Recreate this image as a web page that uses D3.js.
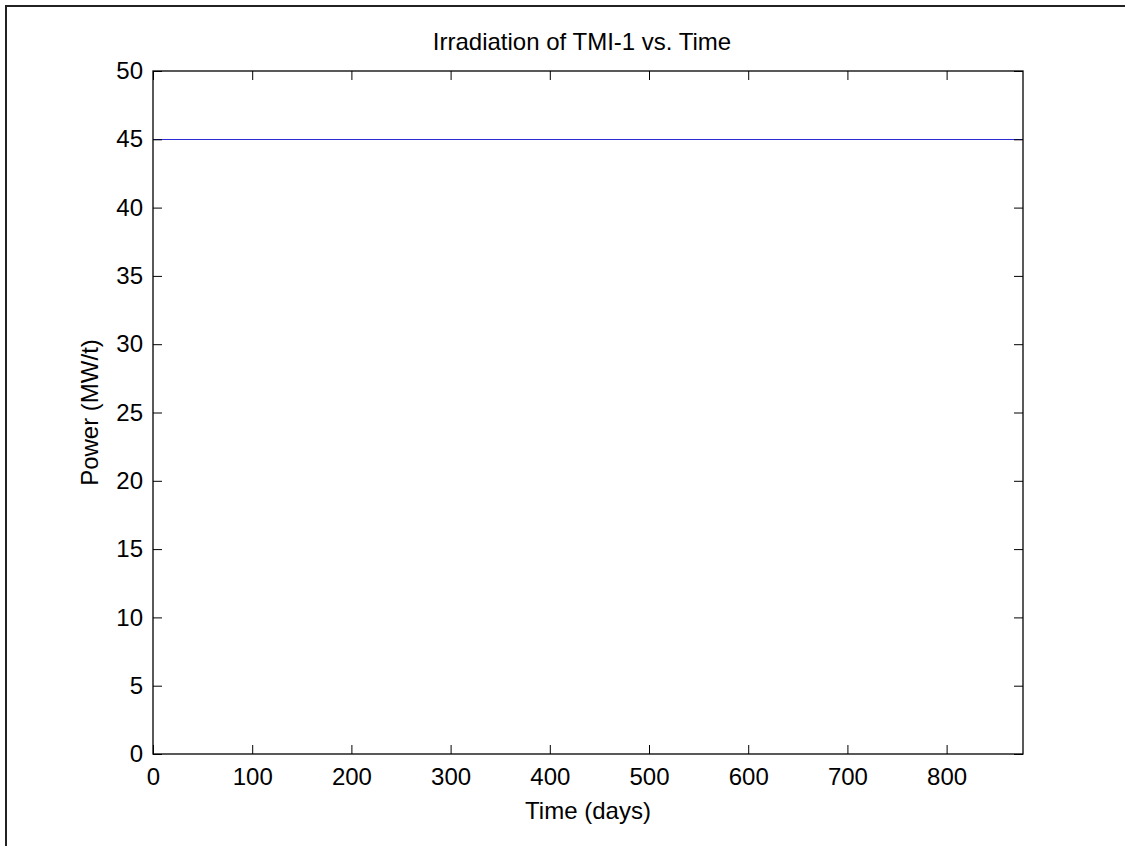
<!DOCTYPE html>
<html>
<head>
<meta charset="utf-8">
<script src="https://cdn.jsdelivr.net/npm/d3@7"></script>
<style>
  body { margin: 0; background: #fff; }
  text { font-family: "Liberation Sans", Arial, sans-serif; fill: #000; }
</style>
</head>
<body>
<div id="plot"></div>
<script>
// Irradiation of TMI-1 vs. Time

var timeDays = [0, 877];
var powerMWt = [45, 45];
var xTicks = [0, 100, 200, 300, 400, 500, 600, 700, 800];
var yTicks = [0, 5, 10, 15, 20, 25, 30, 35, 40, 45, 50];

var width = 1125;
var height = 846;

var axLeft = 153, axRight = 1023, axTop = 71, axBottom = 754;
var tickLen = 9;
var fontSize = 24;

var svg = d3.select("#plot")
    .append("svg")
    .attr("width", width)
    .attr("height", height);

// outer frame (only left and top edges fall inside the picture)
svg.append("rect")
    .attr("x", 6)
    .attr("y", 6)
    .attr("width", 1400)
    .attr("height", 1200)
    .attr("fill", "none")
    .attr("stroke", "#222")
    .attr("stroke-width", 2);

var x = d3.scaleLinear().domain([0, 877]).range([axLeft, axRight]);
var y = d3.scaleLinear().domain([0, 50]).range([axBottom, axTop]);

var pts = timeDays.map(function(t, i) { return [t, powerMWt[i]]; });

svg.append("path")
    .datum(pts)
    .attr("fill", "none")
    .attr("stroke", "#2a2ad6")
    .attr("stroke-width", 1)
    .attr("d", d3.line()
        .x(function(d) { return x(d[0]); })
        .y(function(d) { return Math.round(y(d[1])) + 0.5; }));

function styleText(g) {
    g.select(".domain").remove();
    g.selectAll("text")
        .attr("font-size", fontSize)
        .attr("font-family", "Liberation Sans, Arial, sans-serif")
        .attr("fill", "#000");
}

// axes (ticks pointing inwards, matlab style)
svg.append("g")
    .attr("transform", "translate(0," + axBottom + ")")
    .call(d3.axisBottom(x).tickValues(xTicks).tickSizeInner(-tickLen).tickSizeOuter(0).tickPadding(14))
    .call(styleText);

svg.append("g")
    .attr("transform", "translate(0," + axTop + ")")
    .call(d3.axisTop(x).tickValues(xTicks).tickSizeInner(-tickLen).tickSizeOuter(0).tickFormat(""))
    .call(function(g) { g.select(".domain").remove(); });

svg.append("g")
    .attr("transform", "translate(" + axLeft + ",0)")
    .call(d3.axisLeft(y).tickValues(yTicks).tickSizeInner(-tickLen).tickSizeOuter(0).tickPadding(10))
    .call(styleText);

svg.append("g")
    .attr("transform", "translate(" + axRight + ",0)")
    .call(d3.axisRight(y).tickValues(yTicks).tickSizeInner(-tickLen).tickSizeOuter(0).tickFormat(""))
    .call(function(g) { g.select(".domain").remove(); });

svg.append("rect")
    .attr("x", axLeft)
    .attr("y", axTop)
    .attr("width", axRight - axLeft)
    .attr("height", axBottom - axTop)
    .attr("fill", "none")
    .attr("stroke", "#000")
    .attr("stroke-width", 1.3);

svg.append("text")
    .attr("x", (axLeft + axRight) / 2 - 6)
    .attr("y", 50)
    .attr("text-anchor", "middle")
    .attr("font-size", 24)
    .text("Irradiation of TMI-1 vs. Time");

svg.append("text")
    .attr("x", (axLeft + axRight) / 2)
    .attr("y", 819)
    .attr("text-anchor", "middle")
    .attr("font-size", fontSize)
    .text("Time (days)");

svg.append("text")
    .attr("transform", "translate(98," + ((axTop + axBottom) / 2) + ")rotate(-90)")
    .attr("text-anchor", "middle")
    .attr("font-size", fontSize)
    .text("Power (MW/t)");
</script>
</body>
</html>
